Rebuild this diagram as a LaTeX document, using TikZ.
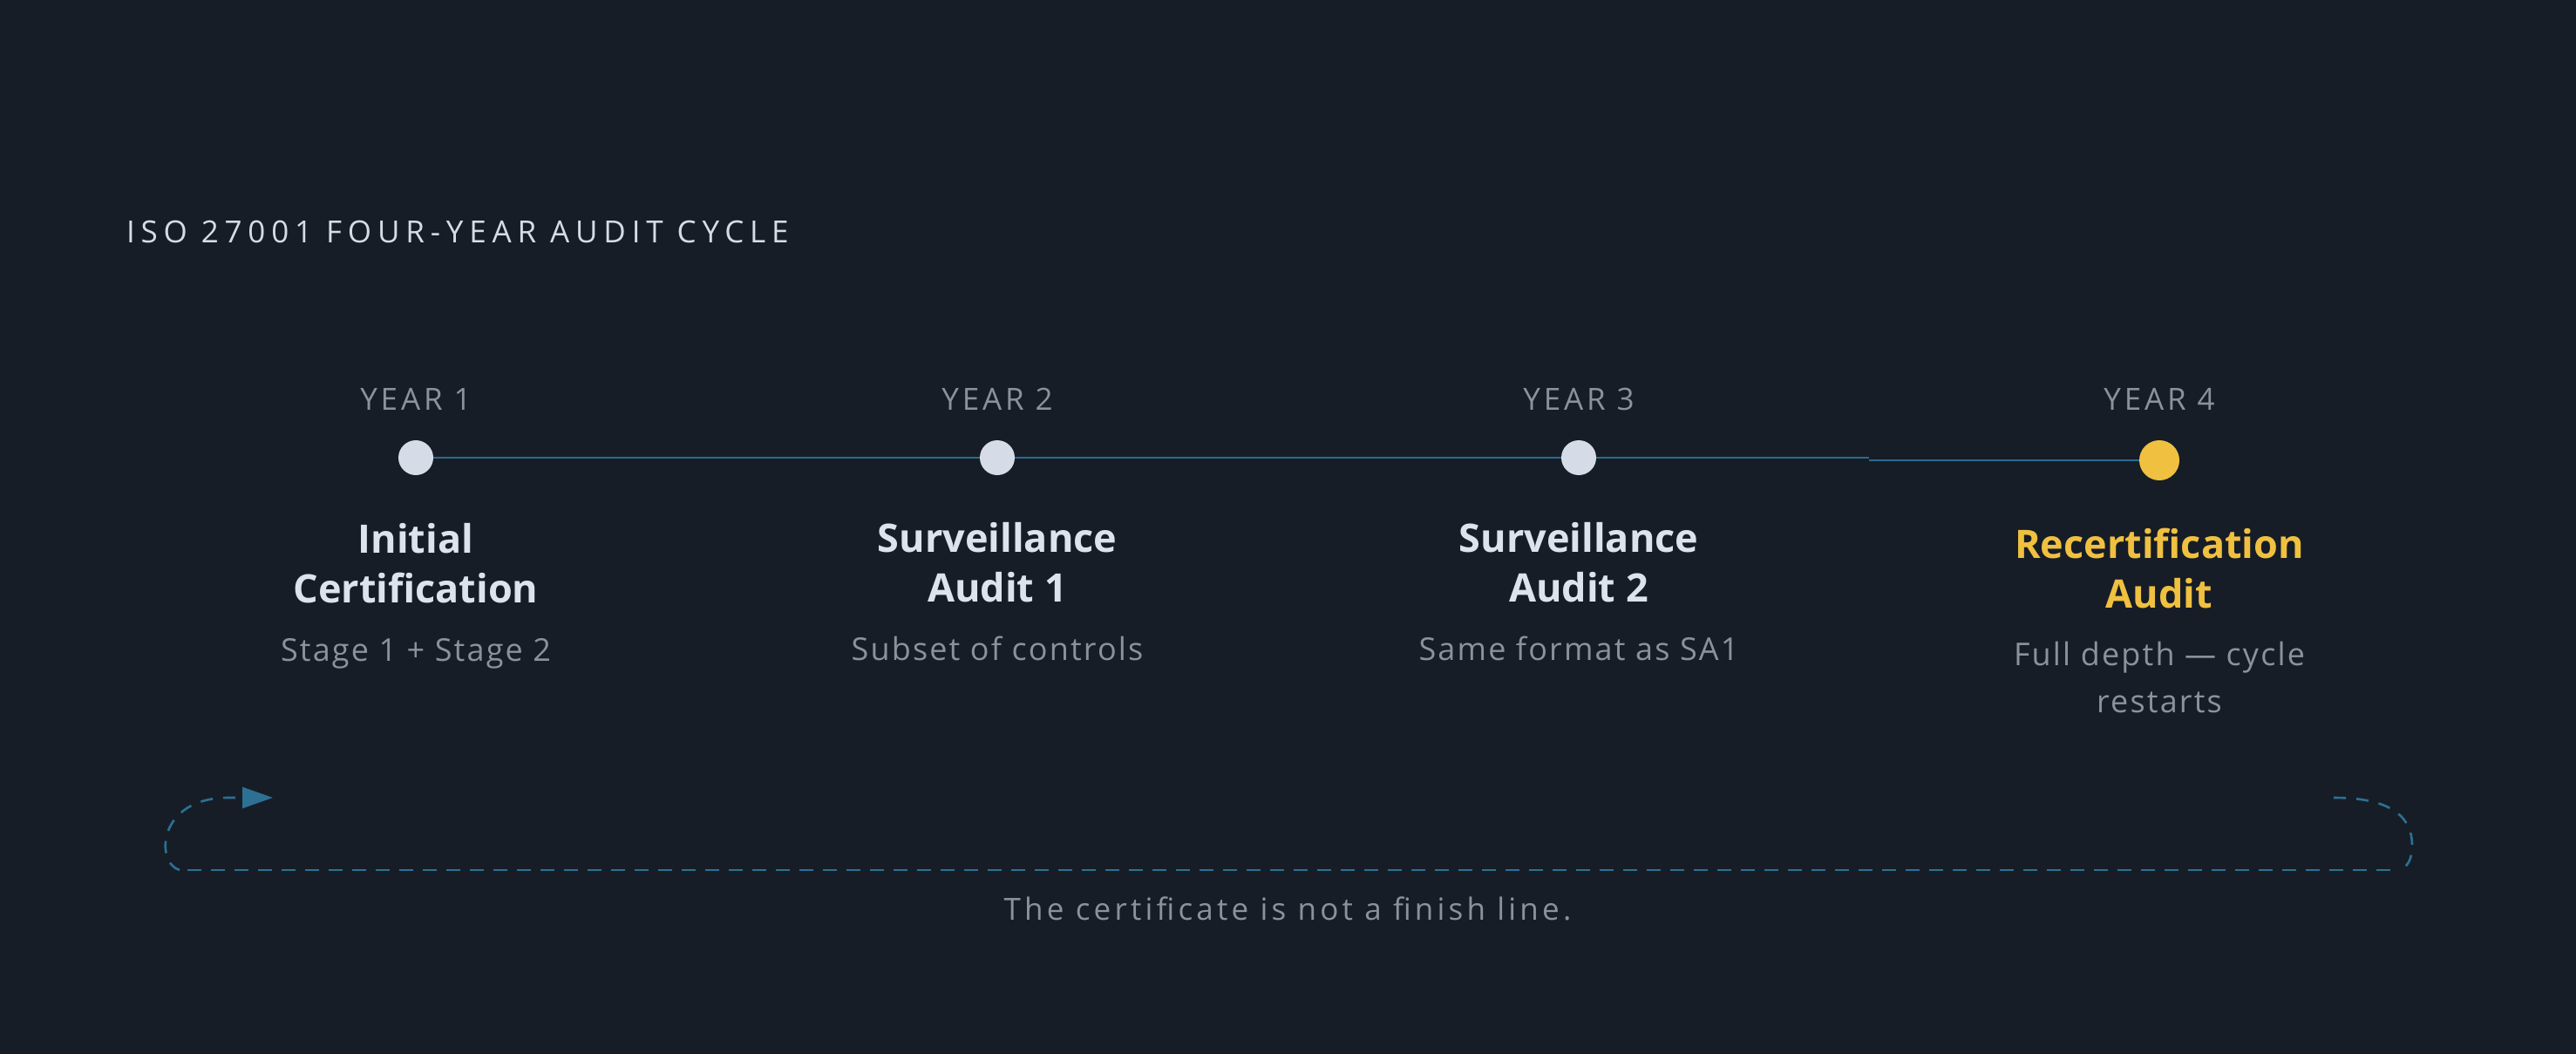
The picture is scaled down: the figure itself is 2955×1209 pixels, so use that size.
\documentclass[tikz,border=0pt]{standalone}
\usepackage{fontspec}
\setmainfont{Open Sans}
\newfontfamily\ftitle[LetterSpace=19.5]{Open Sans}
\newfontfamily\fyear[LetterSpace=11]{Open Sans}
\newfontfamily\fsub[LetterSpace=6]{Open Sans}
\newfontfamily\ffoot[LetterSpace=12]{Open Sans}
\usetikzlibrary{arrows.meta}
\definecolor{bgc}{HTML}{171D27}
\definecolor{titlec}{HTML}{D6DCE5}
\definecolor{headc}{HTML}{DDE3EC}
\definecolor{dotc}{HTML}{D5DCE7}
\definecolor{goldc}{HTML}{F0C040}
\definecolor{grayc}{HTML}{8A929E}
\definecolor{linec}{HTML}{2A6D8D}
\definecolor{loopc}{HTML}{2C7194}
\begin{document}
\begin{tikzpicture}[x=1pt,y=-1pt,
  txt/.style={inner sep=0pt, outer sep=0pt, anchor=base},
  titletext/.style={txt, text=titlec, font=\ftitle\fontsize{35}{42}\selectfont},
  yearlbl/.style={txt, text=grayc, font=\fyear\fontsize{35}{42}\selectfont},
  head/.style={txt, text=headc, font=\bfseries\fontsize{45}{57}\selectfont},
  headgold/.style={head, text=goldc},
  subtext/.style={txt, text=grayc, font=\fsub\fontsize{36}{54}\selectfont},
  foottext/.style={txt, text=grayc, font=\ffoot\fontsize{35}{42}\selectfont},
  dot/.style={circle, fill=dotc, draw=none, minimum size=40pt, inner sep=0pt, outer sep=0pt},
  dotgold/.style={dot, fill=goldc, minimum size=46pt},
  tline/.style={draw=linec, line width=2.5pt},
  loopcurve/.style={draw=loopc, line width=2.6pt, dash pattern=on 14pt off 12pt},
  loopthin/.style={draw=loopc, line width=1.5pt, dash pattern=on 16pt off 11pt},
]
\fill[bgc] (0,0) rectangle (2955,1209);
\useasboundingbox (0,0) rectangle (2955,1209);

\node[titletext, anchor=base west] (title) at (145,278) {ISO 27001 FOUR-YEAR AUDIT CYCLE};

% year labels
\node[yearlbl] (y1) at (477,470) {YEAR 1};
\node[yearlbl] (y2) at (1144,470) {YEAR 2};
\node[yearlbl] (y3) at (1811,470) {YEAR 3};
\node[yearlbl] (y4) at (2477,470) {YEAR 4};

% dots
\node[dot] (d1) at (477,525) {};
\node[dot] (d2) at (1144,525) {};
\node[dot] (d3) at (1811,525) {};
\node[dotgold] (d4) at (2477,528) {};
\coordinate (m34a) at (2144,525);
\coordinate (m34b) at (2144,528);

% timeline
\draw[tline] (d1) -- (d2) -- (d3) -- (m34a);
\draw[tline] (m34b) -- (d4);

% headings
\node[head] (h1a) at (477,634) {Initial};
\node[head] (h1b) at (477,691) {Certification};
\node[subtext] (s1) at (477,758) {Stage 1 + Stage 2};

\node[head] (h2a) at (1144,633) {Surveillance};
\node[head] (h2b) at (1144,690) {Audit 1};
\node[subtext] (s2) at (1144,757) {Subset of controls};

\node[head] (h3a) at (1811,633) {Surveillance};
\node[head] (h3b) at (1811,690) {Audit 2};
\node[subtext] (s3) at (1811,757) {Same format as SA1};

\node[headgold] (h4a) at (2477,640) {Recertification};
\node[headgold] (h4b) at (2477,697) {Audit};
\node[subtext] (s4a) at (2477,763) {Full depth — cycle};
\node[subtext] (s4b) at (2477,817) {restarts};

% loop
\coordinate (lstart) at (206,998);
\coordinate (ltip) at (313,915);
\coordinate (lbot) at (215,998);
\coordinate (rbot) at (2742,998);
\coordinate (rtop) at (2677,915);
\coordinate (rend) at (2752,998);
\draw[loopcurve, -{Triangle[length=35pt,width=24pt]}] (lstart) .. controls (178,990) and (180,915) .. (262,915) -- (ltip);
\draw[loopthin] (lbot) -- (rbot);
\draw[loopcurve] (rtop) .. controls (2740,915) and (2767,935) .. (2767,970) .. controls (2767,985) and (2762,995) .. (rend);

\node[foottext] (foot) at (1477,1055) {The certificate is not a finish line.};
\end{tikzpicture}
\end{document}
